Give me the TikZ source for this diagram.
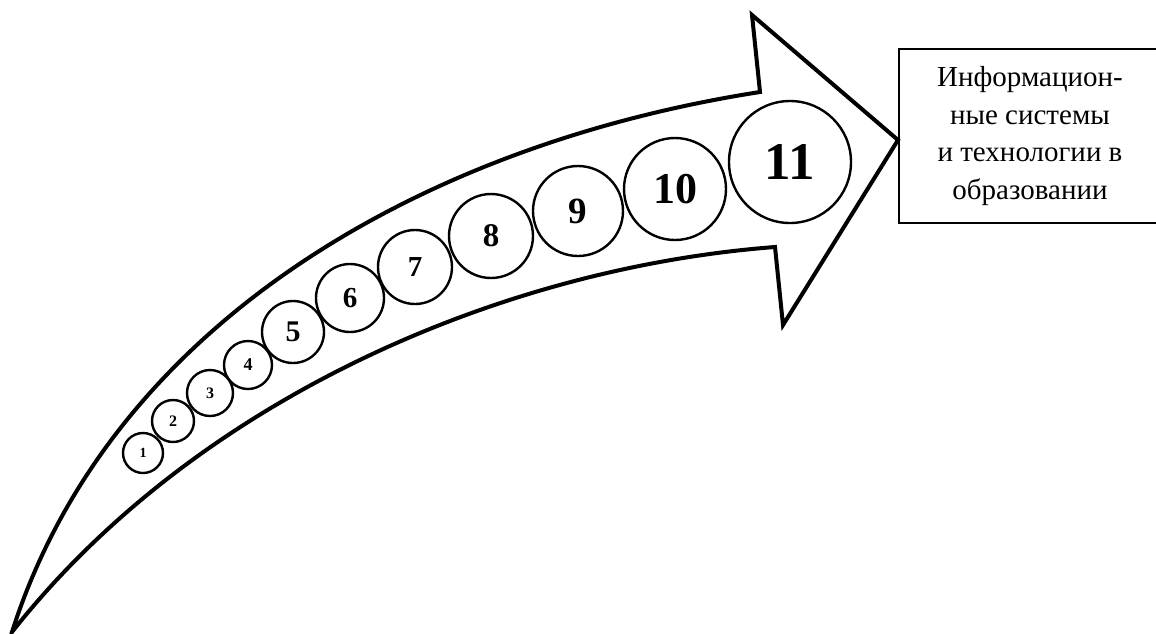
\documentclass[tikz,border=0pt]{standalone}
\usepackage{fontspec}
\setmainfont{Liberation Serif}
\begin{document}
\begin{tikzpicture}[x=1pt,y=-1pt,line join=miter,
  bead/.style={circle,draw,line width=2.4pt,inner sep=0pt},
  infobox/.style={draw,line width=1.5pt,align=center,inner sep=0pt}]
  \useasboundingbox (0,0) rectangle (1156,633);
  % curved arrow
  \draw[line width=4pt] (12,632) .. controls (110,325) and (420,145) .. (760,92)--(752,15)--(898,140)--(783,325)--(775,247) .. controls (500,268) and (195,400) .. cycle;
  % numbered circles along the arrow
  \foreach \n/\x/\y/\r/\s in {1/143/453/20/14,2/173/421/21/16,3/210/393/23/16,4/248/365/24/18,5/293/332/31/30,6/350/298/34/29,7/415/267/37/29,8/491/236/42/33,9/578/211/45/37,10/675/189/51/44,11/790/162/61/53}
  {
    \node[bead,minimum size={2*\r},font=\bfseries\fontsize{\s}{\s}\selectfont] (b\n) at (\x,\y) {\n};
  }
  \node[infobox,minimum width=262,minimum height=174,font=\fontsize{29}{37.5}\selectfont] (info) at (1030,136) {Информацион-\\ные системы\\и технологии в\\образовании};
\end{tikzpicture}
\end{document}
